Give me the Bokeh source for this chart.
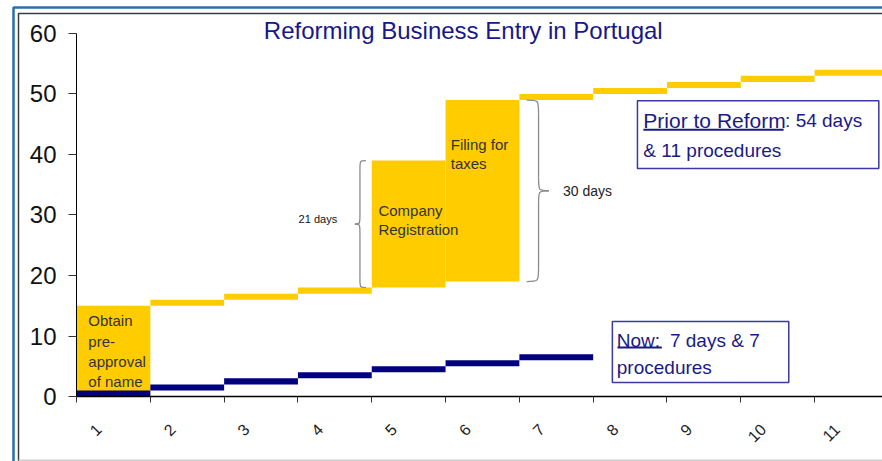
import numpy as np
from bokeh.plotting import figure
from bokeh.models import Range1d, FixedTicker, Label, BoxAnnotation
from bokeh.embed import file_html
from bokeh.resources import INLINE

# ---------------- data ----------------
procedures = list(range(1, 12))
tick_labels = [str(i) for i in procedures]
prior_start = [0, 15, 16, 17, 18, 19, 49, 50, 51, 52, 53]
prior_end = [15, 16, 17, 18, 39, 49, 50, 51, 52, 53, 54]
now_procs = list(range(1, 8))
now_start = [0, 1, 2, 3, 4, 5, 6]
now_end = [1, 2, 3, 4, 5, 6, 7]
y_ticks = [0, 10, 20, 30, 40, 50, 60]

YELLOW = "#FFCC00"
NAVY = "#000080"
TXT_NAVY = "#1a1a85"
BOX_LINE = "#3a3aa0"
FONT = "Liberation Sans"

# frame covers the whole canvas; axes are pinned at x=0.5 and y=0
p = figure(width=882, height=461, output_backend="svg", toolbar_location=None,
           x_range=Range1d(-0.53, 11.42), y_range=Range1d(-10.74, 65.45),
           min_border=0)
p.outline_line_color = None
p.grid.visible = False
p.background_fill_color = "white"
p.border_fill_color = "white"

# outer decorative frame lines
p.add_layout(BoxAnnotation(left=13, right=2000, top=7, bottom=2000,
                           left_units="canvas", right_units="canvas",
                           top_units="canvas", bottom_units="canvas", level="underlay",
                           fill_alpha=0, line_color="#2a6fae", line_alpha=1.0, line_width=2.5))
p.add_layout(BoxAnnotation(left=18, right=2000, top=13, bottom=2000,
                           left_units="canvas", right_units="canvas",
                           top_units="canvas", bottom_units="canvas", level="underlay",
                           fill_alpha=0, line_color="#3c3c3c", line_alpha=1.0, line_width=1.5))
p.add_layout(BoxAnnotation(left=18, right=2000, top=459, bottom=461,
                           left_units="canvas", right_units="canvas",
                           top_units="canvas", bottom_units="canvas", level="underlay",
                           fill_color="#cfcfcf", fill_alpha=1.0, line_alpha=0))

# bars
p.vbar(x=procedures, width=1.0, bottom=prior_start, top=prior_end,
       fill_color=YELLOW, line_color=None)
p.vbar(x=now_procs, width=1.0, bottom=now_start, top=now_end,
       fill_color=NAVY, line_color=None)

# axes
bounds = [i - 0.5 for i in procedures] + [procedures[-1] + 0.5]
label_pos = [round(i - 0.2, 2) for i in procedures]
p.xaxis.fixed_location = 0
p.xaxis.bounds = (bounds[0], 12)
p.xaxis.ticker = FixedTicker(ticks=label_pos, minor_ticks=bounds)
p.xaxis.major_label_overrides = {pos: s for pos, s in zip(label_pos, tick_labels)}
p.xaxis.major_tick_out = 0
p.xaxis.major_tick_in = 0
p.xaxis.minor_tick_out = 6
p.xaxis.minor_tick_in = 0
p.xaxis.minor_tick_line_color = "#333333"
p.xaxis.axis_line_color = "black"
p.xaxis.axis_line_width = 1.5
p.xaxis.major_label_orientation = np.pi / 4
p.xaxis.major_label_text_font = FONT
p.xaxis.major_label_text_font_size = "16px"
p.xaxis.major_label_text_color = "#222222"
p.xaxis.major_label_standoff = 24

p.yaxis.fixed_location = bounds[0]
p.yaxis.bounds = (y_ticks[0], y_ticks[-1])
p.yaxis.ticker = FixedTicker(ticks=y_ticks)
p.yaxis.minor_tick_line_color = None
p.yaxis.major_tick_out = 8
p.yaxis.major_tick_in = 0
p.yaxis.major_tick_line_color = "#333333"
p.yaxis.axis_line_color = "black"
p.yaxis.major_label_text_font = FONT
p.yaxis.major_label_text_font_size = "24px"
p.yaxis.major_label_text_color = "#111111"
p.yaxis.major_label_standoff = 12


def lab(text, x, y, size, color="#333333", align="left", baseline="middle", lh=1.2, yoff=0):
    p.add_layout(Label(x=x, y=y, text=text, text_font=FONT, text_font_size=size,
                       text_color=color, text_align=align, text_baseline=baseline,
                       text_line_height=lh, y_offset=yoff))


# title
lab("Reforming Business Entry in Portugal", 5.74, 60, "24px", color="#17178a",
    align="center", yoff=3)

# texts inside bars
lab("Obtain\npre-\napproval\nof name", 0.66, 13.9, "15px", baseline="top", lh=1.19)
lab("Company\nRegistration", 4.59, 32.2, "15px", baseline="top", lh=1.13)
lab("Filing for\ntaxes", 5.57, 43.0, "15px", baseline="top", lh=1.1)


# braces
def brace(x_edge, y_lo, y_hi, side, d_end, d_vert, d_tip, r):
    xe = x_edge + side * d_end
    xv = x_edge + side * d_vert
    xt = x_edge + side * d_tip
    ym = (y_lo + y_hi) / 2
    x0 = [xe, xv, xt, xv]
    y0 = [y_hi, ym + r, ym, y_lo + r]
    x1 = [xv, xt, xv, xe]
    y1 = [y_hi - r, ym, ym - r, y_lo]
    cx0 = [xv, xv, xv, xv]
    cy0 = [y_hi, ym, ym, y_lo]
    cx1 = [xv, xv, xv, xv]
    cy1 = [y_hi, ym, ym, y_lo]
    p.bezier(x0=x0, y0=y0, x1=x1, y1=y1, cx0=cx0, cy0=cy0, cx1=cx1, cy1=cy1,
             line_color="#8a8a8a", line_width=1.3)
    p.segment(x0=[xv, xv], y0=[y_hi - r, ym - r], x1=[xv, xv], y1=[ym + r, y_lo + r],
              line_color="#8a8a8a", line_width=1.3)


brace(procedures[4] - 0.5, prior_start[4], prior_end[4], -1, 0.08, 0.16, 0.23, 1.5)
brace(procedures[5] + 0.5, prior_start[5], prior_end[5], +1, 0.10, 0.26, 0.40, 2.2)
lab("21 days", 3.77, 29.3, "11px", color="#111111", align="center")
lab("30 days", 7.09, 34.0, "14px", color="#222222")

# info boxes
p.add_layout(BoxAnnotation(left=8.10, right=11.37, top=48.9, bottom=37.7,
                           fill_color="white", fill_alpha=1.0, level="underlay",
                           line_color=BOX_LINE, line_alpha=1.0, line_width=1.5))
lab("Prior to Reform", 8.18, 45.6, "21px", color=TXT_NAVY)
lab(": 54 days", 10.1, 45.6, "19px", color=TXT_NAVY)
lab("& 11 procedures", 8.18, 40.7, "19px", color=TXT_NAVY)
p.segment(x0=[8.18], y0=[44.1], x1=[10.08], y1=[44.1], line_color=TXT_NAVY, line_width=2)

p.add_layout(BoxAnnotation(left=7.76, right=10.15, top=12.4, bottom=2.3,
                           fill_color="white", fill_alpha=1.0, level="underlay",
                           line_color=BOX_LINE, line_alpha=1.0, line_width=1.5))
lab("Now:", 7.82, 9.26, "19px", color=TXT_NAVY)
lab("7 days & 7", 8.54, 9.26, "19px", color=TXT_NAVY)
lab("procedures", 7.82, 4.8, "19px", color=TXT_NAVY)
p.segment(x0=[7.83], y0=[8.1], x1=[8.43], y1=[8.1], line_color=TXT_NAVY, line_width=2)

open("out.html", "w").write(file_html(p, INLINE))
